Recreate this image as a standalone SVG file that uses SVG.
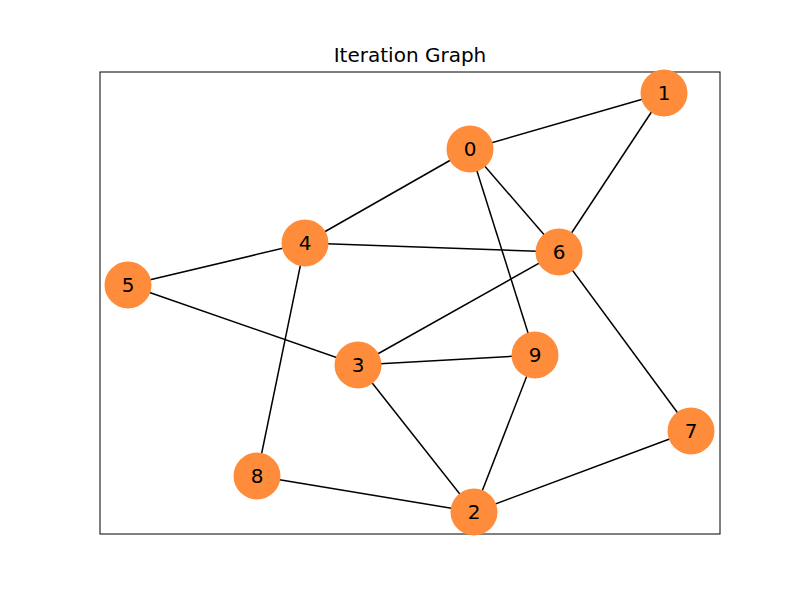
<svg xmlns="http://www.w3.org/2000/svg" width="800" height="600" viewBox="0 0 800 600">
<style>
.node circle{fill:#fe8c3b;}
.node text{font-family:"DejaVu Sans",sans-serif;font-size:20px;fill:#000;text-anchor:middle;dominant-baseline:central;}
#edges line{stroke:#000;stroke-width:1.5;}
</style>
<rect width="800" height="600" fill="#fff"/>
<rect x="100" y="72" width="620" height="462" fill="none" stroke="#000" stroke-width="1"/>
<text x="410" y="62" font-family="DejaVu Sans, sans-serif" font-size="20px" text-anchor="middle">Iteration Graph</text>
<g id="edges">
<line x1="470" y1="149" x2="664" y2="93"/>
<line x1="470" y1="149" x2="305" y2="243"/>
<line x1="470" y1="149" x2="559" y2="252"/>
<line x1="470" y1="149" x2="535" y2="355"/>
<line x1="664" y1="93" x2="559" y2="252"/>
<line x1="305" y1="243" x2="559" y2="252"/>
<line x1="305" y1="243" x2="128" y2="285"/>
<line x1="305" y1="243" x2="257" y2="476"/>
<line x1="128" y1="285" x2="358" y2="365"/>
<line x1="358" y1="365" x2="559" y2="252"/>
<line x1="358" y1="365" x2="535" y2="355"/>
<line x1="358" y1="365" x2="474" y2="512"/>
<line x1="535" y1="355" x2="474" y2="512"/>
<line x1="559" y1="252" x2="691" y2="431"/>
<line x1="691" y1="431" x2="474" y2="512"/>
<line x1="257" y1="476" x2="474" y2="512"/>
</g>
<g id="node0" class="node"><circle cx="470" cy="149" r="23.5"/><text x="470" y="149">0</text></g>
<g id="node1" class="node"><circle cx="664" cy="93" r="23.5"/><text x="664" y="93">1</text></g>
<g id="node2" class="node"><circle cx="474" cy="512" r="23.5"/><text x="474" y="512">2</text></g>
<g id="node3" class="node"><circle cx="358" cy="365" r="23.5"/><text x="358" y="365">3</text></g>
<g id="node4" class="node"><circle cx="305" cy="243" r="23.5"/><text x="305" y="243">4</text></g>
<g id="node5" class="node"><circle cx="128" cy="285" r="23.5"/><text x="128" y="285">5</text></g>
<g id="node6" class="node"><circle cx="559" cy="252" r="23.5"/><text x="559" y="252">6</text></g>
<g id="node7" class="node"><circle cx="691" cy="431" r="23.5"/><text x="691" y="431">7</text></g>
<g id="node8" class="node"><circle cx="257" cy="476" r="23.5"/><text x="257" y="476">8</text></g>
<g id="node9" class="node"><circle cx="535" cy="355" r="23.5"/><text x="535" y="355">9</text></g>
</svg>
